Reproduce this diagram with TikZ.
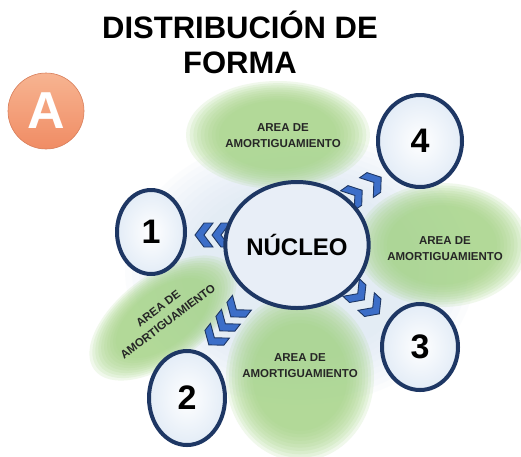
\documentclass[tikz,border=0pt]{standalone}
\usepackage{fontspec}
\setmainfont{Liberation Sans}
\usetikzlibrary{shapes.geometric}
\definecolor{navy}{RGB}{30,55,100}
\definecolor{chevblue}{RGB}{60,110,200}
\definecolor{nucfill}{RGB}{232,238,247}
\definecolor{blobgreen}{RGB}{165,212,135}
\definecolor{glowblue}{RGB}{215,228,243}
\definecolor{orangetop}{RGB}{247,180,145}
\definecolor{orangebot}{RGB}{240,140,100}
\newcommand\softblob[7]{%
  \foreach \k in {1.0,0.96,0.92,0.88,0.84,0.80,0.76,0.72,0.68,0.64}{%
    \fill[#6, fill opacity=#7, rotate around={#5:(#1,#2)}] (#1,#2) ellipse [x radius={\k*#3pt}, y radius={\k*#4pt}];}}
\tikzset{
  chevstyle/.style={fill=chevblue, draw=navy, line width=0.9pt, line join=miter},
  chev/.pic={\path[chevstyle] (-8pt,-12pt) -- (1pt,-12pt) -- (10pt,0pt) -- (1pt,12pt) -- (-8pt,12pt) -- (1pt,0pt) -- cycle;},
  numcircle/.style={ellipse, draw=navy, line width=4pt, inner sep=0pt,
    inner color=white, outer color=glowblue!70,
    font=\bfseries\fontsize{34}{34}\selectfont},
  areatext/.style={align=center, font=\bfseries\fontsize{11.5}{16}\selectfont, text=black!85},
}
\begin{document}
\begin{tikzpicture}[x=1pt,y=-1pt]
\useasboundingbox (0,0) rectangle (521,456);
\fill[white] (0,0) rectangle (521,456);
% blue glow
\softblob{300}{270}{175}{135}{0}{glowblue}{0.09}
% green blobs
\softblob{278}{135}{92}{54}{0}{blobgreen}{0.16}
\softblob{442}{245}{86}{62}{0}{blobgreen}{0.16}
\softblob{300}{377}{74}{84}{0}{blobgreen}{0.16}
\softblob{163}{318}{86}{44}{37}{blobgreen}{0.16}
% title
\node[anchor=base, font=\bfseries\fontsize{31}{36}\selectfont] (t1) at (240,38) {DISTRIBUCIÓN DE};
\node[anchor=base, font=\bfseries\fontsize{31}{36}\selectfont] (t2) at (240,73) {FORMA};
% A badge
\node[circle, minimum size=76pt, inner sep=0pt, top color=orangetop, bottom color=orangebot, draw=orangebot!90!black, line width=0.6pt, text=white, font=\bfseries\fontsize{52}{52}\selectfont] (badge) at (46,111) {A};
% chevrons
\pic[rotate=180] at (205,235) {chev};
\pic[rotate=180] at (222,235) {chev};
\pic[rotate=232] at (237,309) {chev};
\pic[rotate=232] at (226,323) {chev};
\pic[rotate=232] at (215,337) {chev};
\pic[rotate=-43] at (357,293) {chev};
\pic[rotate=-43] at (372,307) {chev};
\pic[rotate=35] at (354,196) {chev};
\pic[rotate=35] at (373,183) {chev};
% nucleus
\node[ellipse, draw=navy, line width=4pt, fill=nucfill, minimum width=134pt, minimum height=126pt, inner sep=0pt, font=\bfseries\fontsize{24}{24}\selectfont] (nuc) at (297,245) {NÚCLEO};
% number circles
\node[numcircle, minimum width=68pt, minimum height=84pt] (n1) at (151,232) {1};
\node[numcircle, minimum width=76pt, minimum height=94pt] (n2) at (187,398) {2};
\node[numcircle, minimum width=76pt, minimum height=86pt] (n3) at (420,347) {3};
\node[numcircle, minimum width=84pt, minimum height=92pt] (n4) at (420,141) {4};
% area texts
\node[areatext] (a1) at (283,136) {AREA DE\\AMORTIGUAMIENTO};
\node[areatext] (a2) at (445,249) {AREA DE\\AMORTIGUAMIENTO};
\node[areatext] (a3) at (300,366) {AREA DE\\AMORTIGUAMIENTO};
\node[areatext, rotate=37] (a4) at (163,315) {AREA DE\\AMORTIGUAMIENTO};
\end{tikzpicture}
\end{document}
